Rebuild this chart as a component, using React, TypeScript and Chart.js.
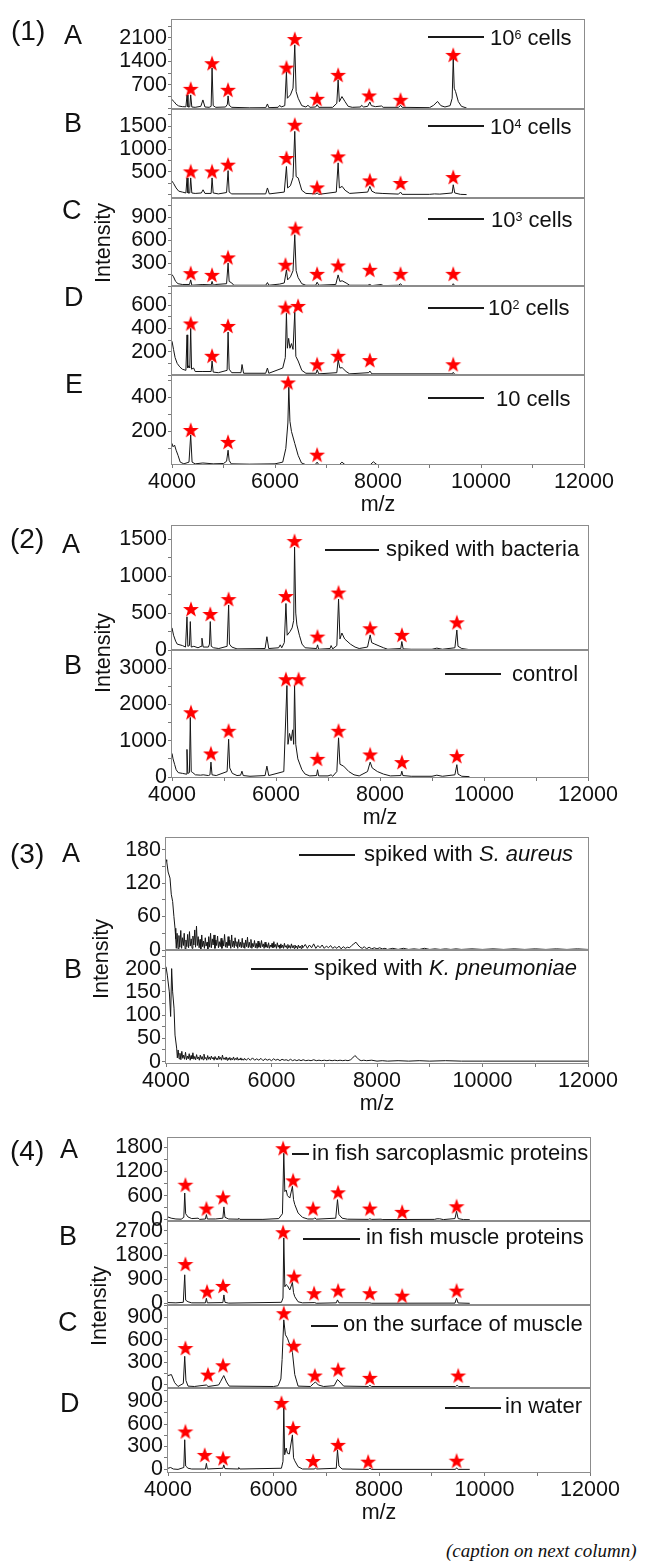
import React, { useEffect, useRef } from "react";
import { Chart, registerables } from "chart.js";
Chart.register(...registerables);

type Pt = [number, number];

// ---------------- DATA ----------------
const X_TICKS = [4000, 5000, 6000, 7000, 8000, 9000, 10000, 11000, 12000];
const X_LABELS = [4000, 6000, 8000, 10000, 12000];

// (1) A  10^6 cells
const spec1A: Pt[] = [[4000,260],[4040,200],[4080,120],[4130,70],[4200,50],[4270,45],[4292,400],[4310,40],[4345,45],[4363,400],[4385,40],[4450,30],[4560,60],[4600,250],[4640,40],[4720,30],[4760,60],[4778,1200],[4800,80],[4850,30],[5040,40],[5075,120],[5089,370],[5110,90],[5160,30],[5500,15],[5820,20],[5853,130],[5880,20],[6060,30],[6093,90],[6120,40],[6190,80],[6222,1090],[6240,300],[6300,400],[6350,600],[6384,1890],[6410,500],[6450,300],[6520,80],[6600,40],[6640,90],[6680,30],[6790,40],[6818,110],[6850,30],[7120,30],[7200,150],[7226,850],[7250,200],[7300,350],[7360,200],[7420,60],[7500,30],[7660,40],[7680,90],[7720,40],[7800,60],[7842,190],[7870,80],[7950,50],[8070,70],[8100,30],[8400,30],[8437,90],[8470,30],[9000,20],[9080,90],[9156,205],[9220,80],[9300,40],[9400,80],[9440,300],[9461,1490],[9480,600],[9506,500],[9560,200],[9620,60],[9720,10]];
const stars1A: Pt[] = [[4363,581],[4777,1344],[5088,552],[6223,1213],[6384,2064],[6817,285],[7226,997],[7828,383],[8438,255],[9460,1590]];
const yLab1A = [700, 1400, 2100];

// (1) B  10^4 cells
const spec1B: Pt[] = [[4000,300],[4030,250],[4080,150],[4130,80],[4200,60],[4270,40],[4292,370],[4310,40],[4345,40],[4363,370],[4385,40],[4450,30],[4570,40],[4603,110],[4640,30],[4760,30],[4778,370],[4800,40],[4900,20],[5060,50],[5089,530],[5110,60],[5160,20],[5820,20],[5853,150],[5890,20],[6180,60],[6222,620],[6245,150],[6300,200],[6350,380],[6384,1390],[6410,400],[6450,370],[6520,100],[6600,30],[6790,20],[6818,40],[6850,10],[7190,60],[7226,700],[7250,150],[7304,185],[7360,100],[7450,30],[7800,60],[7842,185],[7880,80],[7950,40],[8080,30],[8400,15],[8437,60],[8470,10],[9000,10],[9100,20],[9200,15],[9440,40],[9461,220],[9490,40],[9600,10],[9720,5]];
const stars1B: Pt[] = [[4363,513],[4777,513],[5088,660],[6223,807],[6384,1536],[6817,162],[7226,842],[7842,316],[8438,259],[9460,390]];
const yLab1B = [500, 1000, 1500];

// (1) C  10^3 cells
const spec1C: Pt[] = [[4000,150],[4030,120],[4070,60],[4117,30],[4200,20],[4340,20],[4363,80],[4385,10],[4600,20],[4760,15],[4778,60],[4800,10],[4850,20],[5060,30],[5089,300],[5110,60],[5160,40],[5200,10],[5820,10],[5853,45],[5880,10],[6090,25],[6180,40],[6222,210],[6245,80],[6300,120],[6350,200],[6384,670],[6410,200],[6449,110],[6520,30],[6600,10],[6790,10],[6818,50],[6850,10],[7180,20],[7226,145],[7260,60],[7304,68],[7380,40],[7450,10],[7800,10],[7842,20],[7880,5],[8068,20],[8100,5],[8400,10],[8437,30],[8470,5],[9440,5],[9461,30],[9490,5],[9720,3]];
const stars1C: Pt[] = [[4363,168],[4777,146],[5088,374],[6203,278],[6398,751],[6817,159],[7226,268],[7842,212],[8438,159],[9460,159]];
const yLab1C = [300, 600, 900];

// (1) D  10^2 cells
const spec1D: Pt[] = [[4000,290],[4030,220],[4060,150],[4100,100],[4150,70],[4200,50],[4270,40],[4292,345],[4305,60],[4330,80],[4345,60],[4363,400],[4380,50],[4420,60],[4450,30],[4600,30],[4760,30],[4778,120],[4800,25],[4900,20],[5070,40],[5089,370],[5110,50],[5160,20],[5340,20],[5360,90],[5390,15],[5820,15],[5853,60],[5880,15],[6150,60],[6200,150],[6222,530],[6240,230],[6265,315],[6290,230],[6320,270],[6350,220],[6384,540],[6405,160],[6450,120],[6520,40],[6600,15],[6800,15],[6818,45],[6850,10],[7200,20],[7226,130],[7260,60],[7304,63],[7380,30],[7450,10],[7820,20],[7842,34],[7880,10],[9440,10],[9461,23],[9490,5],[9720,3]];
const stars1D: Pt[] = [[4363,443],[4777,165],[5088,422],[6203,580],[6448,594],[6817,92],[7226,165],[7842,128],[9460,92]];
const yLab1D = [200, 400, 600];

// (1) E  10 cells
const spec1E: Pt[] = [[4000,130],[4020,110],[4050,120],[4080,90],[4117,60],[4160,20],[4230,10],[4330,20],[4363,180],[4390,20],[4450,10],[4600,15],[4800,10],[5000,12],[5060,25],[5089,90],[5110,30],[5150,10],[5500,8],[6000,10],[6150,20],[6210,100],[6250,250],[6268,460],[6290,260],[6320,200],[6384,130],[6449,60],[6514,15],[6600,5],[6780,5],[6818,20],[6850,5],[7250,5],[7300,20],[7360,5],[7850,5],[7910,22],[7980,5],[8300,5],[9720,3]];
const stars1E: Pt[] = [[4363,209],[5088,139],[6254,488],[6817,64]];
const yLab1E = [200, 400];

// (2) A  spiked with bacteria
const spec2A: Pt[] = [[4000,300],[4030,200],[4070,120],[4100,80],[4200,60],[4260,40],[4288,450],[4305,50],[4335,60],[4352,385],[4370,40],[4420,50],[4500,30],[4560,50],[4576,160],[4600,40],[4700,40],[4720,80],[4736,385],[4755,50],[4800,30],[4900,20],[5060,50],[5089,610],[5105,80],[5150,40],[5250,15],[5790,20],[5825,180],[5860,20],[6050,30],[6082,70],[6110,30],[6160,100],[6191,630],[6215,200],[6270,250],[6310,300],[6340,400],[6357,1395],[6380,500],[6402,340],[6450,200],[6500,80],[6560,30],[6780,20],[6799,70],[6820,10],[7040,20],[7060,60],[7090,15],[7170,60],[7203,690],[7230,150],[7267,230],[7320,150],[7430,80],[7520,40],[7600,20],[7760,40],[7811,205],[7840,100],[7900,80],[8000,50],[8068,30],[8150,10],[8400,20],[8420,115],[8445,15],[8600,10],[9000,10],[9093,25],[9200,10],[9440,30],[9478,270],[9500,50],[9573,20],[9720,5]];
const stars2A: Pt[] = [[4365,555],[4736,488],[5088,690],[6191,731],[6356,1476],[6798,182],[7202,779],[7811,294],[8421,205],[9478,375]];
const yLab2A = [0, 500, 1000, 1500];

// (2) B  control
const spec2B: Pt[] = [[4000,650],[4020,500],[4050,350],[4080,200],[4120,120],[4200,100],[4270,80],[4288,760],[4305,100],[4335,120],[4352,1640],[4370,150],[4400,120],[4450,60],[4550,50],[4600,60],[4700,40],[4730,60],[4749,410],[4770,60],[4850,40],[5060,150],[5089,1040],[5110,250],[5160,100],[5250,40],[5320,50],[5345,160],[5370,40],[5500,20],[5790,40],[5825,300],[5860,40],[6150,150],[6210,2520],[6230,900],[6260,1200],[6290,1000],[6320,1300],[6340,900],[6357,2520],[6380,900],[6420,500],[6498,200],[6560,80],[6650,30],[6780,40],[6799,200],[6820,30],[7000,30],[7060,60],[7090,20],[7170,150],[7203,1080],[7230,350],[7300,300],[7400,150],[7500,60],[7600,30],[7760,150],[7811,410],[7850,250],[7950,150],[8068,80],[8200,30],[8400,40],[8420,160],[8440,40],[8600,20],[9000,20],[9093,50],[9200,20],[9440,60],[9478,340],[9500,80],[9573,20],[9720,10]];
const stars2B: Pt[] = [[4365,1783],[4748,649],[5088,1273],[6191,2694],[6434,2694],[6798,501],[7202,1273],[7811,621],[8421,410],[9478,577]];
const yLab2B = [0, 1000, 2000, 3000];

// (3) A  spiked with S. aureus
const spec3A: Pt[] = [[4000,162],[4013,159],[4040,140],[4076,129],[4100,100],[4126,87],[4150,60],[4171,39],[4185,20],[4195,3],
[4210,30],[4228,2],[4245,26],[4262,5],[4280,35],[4296,3],[4312,22],[4330,8],[4345,30],[4362,2],[4378,18],[4395,6],[4410,28],[4428,4],[4445,33],[4460,7],[4478,20],[4494,3],[4510,25],[4528,9],[4545,36],[4560,5],[4578,43],[4594,8],[4610,24],[4628,4],[4645,19],[4660,2],[4678,27],[4694,6],[4710,16],[4728,3],[4745,22],[4760,7],[4778,14],[4794,2],[4810,24],[4828,5],[4845,30],[4860,4],[4878,20],[4894,9],[4910,27],[4928,3],[4945,18],[4960,8],[4978,25],[4994,4],[5010,15],[5028,6],[5045,21],[5060,3],[5078,17],[5094,7],[5110,28],[5128,5],[5145,14],[5160,4],[5178,24],[5194,8],[5210,18],[5228,3],[5245,27],[5260,6],[5278,16],[5294,4],[5310,22],[5328,7],[5345,15],[5360,3],[5378,19],[5394,6],[5410,14],[5428,4],[5445,21],[5460,5],[5478,13],[5494,3],[5510,18],[5528,6],[5545,23],[5560,4],[5578,14],[5594,5],[5610,19],[5628,3],[5645,12],[5660,6],[5678,17],[5694,4],[5710,12],[5728,3],[5745,16],[5760,5],[5778,13],[5794,4],[5810,17],[5828,6],[5845,11],[5860,3],[5878,14],[5894,5],[5910,10],[5928,4],[5945,13],[5960,3],[5978,9],[5994,5],[6010,12],[6028,4],[6045,15],[6060,5],[6078,10],[6094,3],[6110,13],[6128,5],[6145,9],[6160,3],[6178,11],[6194,4],[6210,9],[6228,3],[6245,12],[6260,5],[6278,8],[6294,3],[6310,10],[6328,4],[6345,8],[6360,3],[6378,11],[6394,4],[6410,8],[6428,3],[6445,9],[6460,4],[6478,7],[6494,2],[6510,9],[6528,4],[6545,7],[6560,3],[6578,9],[6594,4],
[6640,10],[6680,3],[6720,9],[6760,4],[6800,11],[6840,3],[6880,8],[6920,4],[6960,9],[7000,3],[7040,7],[7080,4],[7120,8],[7160,3],[7200,6],[7240,3],[7280,7],[7320,2],[7360,6],[7400,3],[7440,5],[7480,4],[7520,8],[7560,11],[7600,14],[7640,9],[7680,5],[7720,3],[7760,6],[7800,2],[7850,5],[7900,2],[7950,4],[8000,2],[8050,4],[8100,2],[8150,3],[8200,1],[8300,3],[8400,1],[8500,3],[8600,1],[8700,2],[8800,1],[8900,3],[9000,1],[9100,2],[9200,1],[9300,2],[9400,1],[9500,2],[9600,1],[9800,2],[10000,1],[10200,2],[10400,1],[10600,2],[10800,1],[11000,2],[11200,1],[11400,2],[11600,1],[11800,2],[12000,1]];
const yLab3A = [0, 60, 120, 180];

// (3) B  spiked with K. pneumoniae
const spec3B: Pt[] = [[4000,204],[4025,186],[4063,150],[4088,97],[4107,200],[4126,150],[4152,115],[4171,57],[4202,29],[4215,8],
[4230,25],[4248,6],[4265,18],[4282,4],[4300,22],[4318,7],[4335,14],[4352,5],[4370,20],[4388,4],[4405,12],[4422,6],[4440,17],[4458,3],[4475,13],[4492,6],[4510,19],[4528,5],[4545,11],[4562,4],[4580,15],[4598,6],[4615,10],[4632,3],[4650,14],[4668,5],[4685,11],[4702,4],[4720,16],[4738,6],[4755,9],[4772,3],[4790,13],[4808,5],[4825,10],[4842,4],[4860,12],[4878,6],[4895,9],[4912,3],[4930,11],[4948,5],[4965,8],[4982,4],[5000,12],[5018,5],[5035,9],[5052,3],[5070,14],[5088,5],[5105,8],[5122,4],[5140,10],[5158,3],[5175,8],[5192,4],[5210,9],[5228,3],[5245,7],[5262,4],[5280,10],[5298,3],[5315,7],[5332,4],[5350,9],[5368,3],[5385,6],[5402,4],[5420,8],[5438,3],[5455,6],[5472,3],[5490,7],
[5520,3],[5560,7],[5600,3],[5640,8],[5680,3],[5720,6],[5760,3],[5800,7],[5840,2],[5880,6],[5920,3],[5960,5],[6000,2],[6040,6],[6080,3],[6120,5],[6160,2],[6200,5],[6240,3],[6280,4],[6320,2],[6360,5],[6400,2],[6440,4],[6480,2],[6520,4],[6560,2],[6600,4],[6650,2],[6700,3],[6750,2],[6800,4],[6850,2],[6900,3],[6950,2],[7000,3],[7050,2],[7100,3],[7150,2],[7200,3],[7250,2],[7300,3],[7350,2],[7400,3],[7450,2],[7500,4],[7540,8],[7580,13],[7620,9],[7660,4],[7700,2],[7750,3],[7800,2],[7900,3],[8000,1],[8100,2],[8200,1],[8400,2],[8600,1],[8800,2],[9000,1],[9300,2],[9600,1],[10000,1],[11000,1],[12000,1]];
const yLab3B = [0, 50, 100, 150, 200];

// (4) A  in fish sarcoplasmic proteins
const spec4A: Pt[] = [[4000,70],[4060,40],[4150,20],[4250,15],[4300,60],[4317,665],[4335,150],[4380,70],[4450,30],[4570,40],[4600,10],[4710,20],[4728,130],[4745,20],[4900,20],[5040,40],[5060,320],[5080,60],[5150,20],[5330,15],[5341,40],[5360,10],[5800,10],[6100,30],[6170,150],[6195,1650],[6215,700],[6240,740],[6264,600],[6309,540],[6359,830],[6380,500],[6403,380],[6466,170],[6550,60],[6650,20],[6760,20],[6783,50],[6810,15],[7180,40],[7213,500],[7240,130],[7300,40],[7400,15],[7800,10],[7826,25],[7860,10],[8040,15],[8060,5],[9050,10],[9100,25],[9150,25],[9220,5],[9440,30],[9470,210],[9500,30],[9600,5],[9720,3]];
const stars4A: Pt[] = [[4330,871],[4728,279],[5043,557],[6182,1776],[6371,977],[6751,279],[7225,681],[7827,279],[8439,197],[9471,335]];
const yLab4A = [0, 600, 1200, 1800];

// (4) B  in fish muscle proteins
const spec4B: Pt[] = [[4000,30],[4150,20],[4290,40],[4317,1065],[4335,120],[4380,60],[4450,20],[4710,20],[4728,190],[4745,20],[5040,30],[5060,315],[5080,40],[5150,10],[6150,40],[6180,200],[6195,2440],[6215,620],[6240,700],[6264,660],[6309,500],[6359,780],[6380,400],[6403,250],[6466,60],[6550,20],[6783,30],[6810,5],[7190,20],[7213,130],[7240,20],[7826,20],[7860,5],[9440,10],[9470,190],[9500,15],[9720,3]];
const stars4B: Pt[] = [[4330,1466],[4740,439],[5043,652],[6182,2651],[6390,1001],[6770,379],[7225,476],[7827,379],[8439,289],[9471,476]];
const yLab4B = [0, 900, 1800, 2700];

// (4) C  on the surface of muscle
const spec4C: Pt[] = [[4000,125],[4064,138],[4127,30],[4190,-20],[4290,20],[4317,380],[4340,60],[4380,-15],[4500,-20],[4728,0],[4760,-20],[4960,0],[5000,50],[5057,125],[5110,40],[5160,-15],[6000,-20],[6087,-10],[6140,80],[6163,336],[6195,863],[6226,665],[6264,620],[6309,533],[6359,432],[6403,138],[6466,-15],[6700,-20],[6760,20],[6795,40],[6850,0],[6950,-20],[7150,-10],[7213,72],[7260,40],[7330,-15],[7800,-20],[7826,-5],[7860,-20],[9450,-20],[9480,-5],[9510,-20],[9720,-20]];
const stars4C: Pt[] = [[4330,490],[4758,138],[5043,261],[6195,951],[6385,520],[6784,125],[7225,204],[7827,95],[9502,125]];
const yLab4C = [0, 300, 600, 900];

// (4) D  in water
const spec4D: Pt[] = [[4000,10],[4050,20],[4100,0],[4190,-5],[4300,20],[4317,390],[4335,40],[4380,10],[4450,0],[4710,0],[4728,75],[4745,0],[5040,10],[5057,55],[5080,5],[5330,0],[5341,20],[5360,0],[6150,10],[6180,100],[6195,815],[6212,190],[6240,280],[6264,210],[6300,200],[6359,455],[6380,150],[6403,110],[6466,30],[6550,0],[6780,0],[6795,15],[6820,0],[7190,10],[7213,255],[7240,40],[7300,0],[7800,-5],[7826,10],[7860,-5],[9450,-5],[9470,15],[9500,-5],[9720,-5]];
const stars4D: Pt[] = [[4330,500],[4696,188],[5043,143],[6151,881],[6371,546],[6751,107],[7225,322],[7794,98],[9471,111]];
const yLab4D = [0, 300, 600, 900];

// ---------------- LAYOUT ----------------
const W = 651;
const YW = 60;
const PT = 16;
const PB = 16;
const XH = 54;
const SANS = '"Liberation Sans", Arial, Helvetica, sans-serif';

interface Spec {
  left: number; right: number; top: number; bottom: number;
  yMin: number; yMax: number; yLabels: number[];
  line: Pt[]; stars: Pt[]; xAxis: boolean;
}

const PANELS: Spec[] = [
  { left: 172, right: 584, top: 20, bottom: 109, yMin: -20, yMax: 2630, yLabels: yLab1A, line: spec1A, stars: stars1A, xAxis: false },
  { left: 172, right: 584, top: 109, bottom: 198, yMin: -70, yMax: 1880, yLabels: yLab1B, line: spec1B, stars: stars1B, xAxis: false },
  { left: 172, right: 584, top: 198, bottom: 286, yMin: 0, yMax: 1150, yLabels: yLab1C, line: spec1C, stars: stars1C, xAxis: false },
  { left: 172, right: 584, top: 286, bottom: 375, yMin: 0, yMax: 765, yLabels: yLab1D, line: spec1D, stars: stars1D, xAxis: false },
  { left: 172, right: 584, top: 375, bottom: 464, yMin: 9, yMax: 532, yLabels: yLab1E, line: spec1E, stars: stars1E, xAxis: true },
  { left: 172, right: 588, top: 526, bottom: 650, yMin: 0, yMax: 1680, yLabels: yLab2A, line: spec2A, stars: stars2A, xAxis: false },
  { left: 172, right: 588, top: 650, bottom: 777, yMin: 0, yMax: 3500, yLabels: yLab2B, line: spec2B, stars: stars2B, xAxis: true },
  { left: 166, right: 588, top: 838, bottom: 950, yMin: 0, yMax: 201, yLabels: yLab3A, line: spec3A, stars: [], xAxis: false },
  { left: 166, right: 588, top: 950, bottom: 1063, yMin: -3, yMax: 240, yLabels: yLab3B, line: spec3B, stars: [], xAxis: true },
  { left: 168, right: 590, top: 1138, bottom: 1221, yMin: -30, yMax: 2030, yLabels: yLab4A, line: spec4A, stars: stars4A, xAxis: false },
  { left: 168, right: 590, top: 1221, bottom: 1305, yMin: -60, yMax: 3070, yLabels: yLab4B, line: spec4B, stars: stars4B, xAxis: false },
  { left: 168, right: 590, top: 1305, bottom: 1388, yMin: -40, yMax: 1060, yLabels: yLab4C, line: spec4C, stars: stars4C, xAxis: false },
  { left: 168, right: 590, top: 1388, bottom: 1472, yMin: -40, yMax: 1080, yLabels: yLab4D, line: spec4D, stars: stars4D, xAxis: true },
];

function makeStar(): HTMLCanvasElement {
  const c = document.createElement("canvas");
  c.width = 18;
  c.height = 18;
  const ctx = c.getContext("2d")!;
  ctx.fillStyle = "#ff0000";
  ctx.beginPath();
  for (let i = 0; i < 10; i++) {
    const r = i % 2 === 0 ? 8.4 : 3.4;
    const a = -Math.PI / 2 + (i * Math.PI) / 5;
    const px = 9 + r * Math.cos(a);
    const py = 9.7 + r * Math.sin(a);
    if (i === 0) ctx.moveTo(px, py);
    else ctx.lineTo(px, py);
  }
  ctx.closePath();
  ctx.fill();
  return c;
}

const framePlugin = {
  id: "frame",
  afterDraw(chart: any) {
    const { ctx, chartArea } = chart;
    const { left, top, right, bottom } = chartArea;
    ctx.save();
    ctx.strokeStyle = "#8c8c8c";
    ctx.lineWidth = 1;
    ctx.strokeRect(Math.round(left) - 0.5, Math.round(top) - 0.5, Math.round(right - left) + 1, Math.round(bottom - top) + 1);
    ctx.restore();
  },
};

function PanelChart({ spec }: { spec: Spec }) {
  const ref = useRef<HTMLCanvasElement>(null);
  const ph = spec.bottom - spec.top;
  const h = PT + ph + (spec.xAxis ? XH + 4 : PB);
  useEffect(() => {
    const star = makeStar();
    const labs = spec.yLabels;
    const half = (labs[1] - labs[0]) / 2;
    const yt: number[] = [];
    for (let k = Math.ceil(spec.yMin / half); k * half <= spec.yMax; k++) yt.push(k * half);
    const tickFont = { family: SANS, size: 21.5 };
    const chart = new Chart(ref.current!, {
      type: "line",
      data: {
        datasets: [
          {
            data: spec.stars.map(([x, y]) => ({ x, y })),
            showLine: false,
            pointStyle: star as any,
            pointRadius: 9,
            borderWidth: 0,
            clip: false as any,
          },
          {
            data: spec.line.map(([x, y]) => ({ x, y })),
            borderColor: "#151515",
            borderWidth: 1,
            pointRadius: 0,
            tension: 0,
            fill: false,
          },
        ],
      },
      options: {
        responsive: false,
        maintainAspectRatio: false,
        animation: false,
        events: [],
        layout: {
          padding: {
            left: spec.left - YW,
            right: W - spec.right,
            top: PT,
            bottom: spec.xAxis ? 4 : PB,
          },
        },
        plugins: { legend: { display: false }, tooltip: { enabled: false } },
        scales: {
          x: {
            type: "linear",
            min: 4000,
            max: 12000,
            display: spec.xAxis,
            afterFit: (s: any) => { if (spec.xAxis) s.height = XH; },
            afterBuildTicks: (s: any) => { s.ticks = X_TICKS.map((v) => ({ value: v })); },
            ticks: {
              autoSkip: false,
              maxRotation: 0,
              padding: 1,
              color: "#111",
              font: tickFont,
              callback: (v: any) => (X_LABELS.includes(Number(v)) ? String(v) : ""),
            },
            grid: { drawOnChartArea: false, drawTicks: true, tickLength: 4, color: "#777" },
            border: { display: false },
            title: { display: true, text: "m/z", color: "#111", font: { family: SANS, size: 21.5 }, padding: { top: 0, bottom: 0 } },
          },
          y: {
            type: "linear",
            min: spec.yMin,
            max: spec.yMax,
            afterFit: (s: any) => { s.width = YW; },
            afterBuildTicks: (s: any) => { s.ticks = yt.map((v) => ({ value: v })); },
            ticks: {
              autoSkip: false,
              padding: 1,
              color: "#111",
              font: tickFont,
              callback: (v: any) => (labs.includes(Number(v)) ? String(v) : ""),
            },
            grid: { drawOnChartArea: false, drawTicks: true, tickLength: 4, color: "#777" },
            border: { display: false },
          },
        },
      } as any,
      plugins: [framePlugin],
    });
    return () => chart.destroy();
  }, []);
  return (
    <canvas
      ref={ref}
      width={W}
      height={h}
      style={{ position: "absolute", left: 0, top: spec.top - PT, width: W, height: h }}
    />
  );
}

// text overlays
const GROUP_LABELS: { t: string; x: number; c: number }[] = [
  { t: "(1)", x: 11, c: 30.7 },
  { t: "(2)", x: 10, c: 538.5 },
  { t: "(3)", x: 10, c: 853 },
  { t: "(4)", x: 10, c: 1150 },
];
const PANEL_LETTERS: { t: string; x: number; c: number }[] = [
  { t: "A", x: 64, c: 34.5 }, { t: "B", x: 64, c: 123 }, { t: "C", x: 62, c: 210 }, { t: "D", x: 64, c: 296.5 }, { t: "E", x: 65, c: 384 },
  { t: "A", x: 62, c: 543.5 }, { t: "B", x: 64, c: 665 },
  { t: "A", x: 62, c: 852.5 }, { t: "B", x: 64, c: 969 },
  { t: "A", x: 60, c: 1148.5 }, { t: "B", x: 59, c: 1236 }, { t: "C", x: 58, c: 1321.5 }, { t: "D", x: 60, c: 1402.5 },
];
const INTENSITY_POS: { x: number; y: number }[] = [
  { x: 103, y: 243 }, { x: 103, y: 653 }, { x: 101, y: 959 }, { x: 99, y: 1306 },
];

type Part = { text: string; italic?: boolean; sup?: boolean };
const LEGENDS: { x1: number; x2: number; y: number; tx: number; base: number; parts: Part[] }[] = [
  { x1: 428, x2: 484, y: 36.7, tx: 490, base: 46.3, parts: [{ text: "10" }, { text: "6", sup: true }, { text: " cells" }] },
  { x1: 428, x2: 484, y: 126, tx: 490, base: 135, parts: [{ text: "10" }, { text: "4", sup: true }, { text: " cells" }] },
  { x1: 428, x2: 484, y: 219.3, tx: 491, base: 228.3, parts: [{ text: "10" }, { text: "3", sup: true }, { text: " cells" }] },
  { x1: 428, x2: 484, y: 308.3, tx: 488, base: 315.5, parts: [{ text: "10" }, { text: "2", sup: true }, { text: " cells" }] },
  { x1: 428, x2: 484, y: 398.3, tx: 496, base: 406.5, parts: [{ text: "10 cells" }] },
  { x1: 325, x2: 379, y: 549.5, tx: 386, base: 556.7, parts: [{ text: "spiked with bacteria" }] },
  { x1: 445, x2: 501, y: 674.3, tx: 512, base: 681.7, parts: [{ text: "control" }] },
  { x1: 299, x2: 355, y: 854.5, tx: 364, base: 861.7, parts: [{ text: "spiked with " }, { text: "S. aureus", italic: true }] },
  { x1: 251, x2: 308, y: 968.5, tx: 314, base: 975.5, parts: [{ text: "spiked with " }, { text: "K. pneumoniae", italic: true }] },
  { x1: 292, x2: 309, y: 1153.5, tx: 312, base: 1160.5, parts: [{ text: "in fish sarcoplasmic proteins" }] },
  { x1: 303, x2: 360, y: 1238.5, tx: 366, base: 1245.3, parts: [{ text: "in fish muscle proteins" }] },
  { x1: 311, x2: 338, y: 1325.5, tx: 343, base: 1332, parts: [{ text: "on the surface of muscle" }] },
  { x1: 445, x2: 501, y: 1407.5, tx: 505, base: 1413.8, parts: [{ text: "in water" }] },
];
const CAPTION = "(caption on next column)";

const LEG_SIZE = 22;

export default function App() {
  useEffect(() => {
    document.body.style.margin = "0";
  }, []);
  return (
    <div style={{ position: "absolute", left: 0, top: 0, width: W, height: 1567, background: "#fff", overflow: "hidden", fontFamily: SANS, color: "#111" }}>
      {PANELS.map((p, i) => (
        <PanelChart key={i} spec={p} />
      ))}
      {GROUP_LABELS.map((g, i) => (
        <div key={"g" + i} style={{ position: "absolute", left: g.x, top: g.c - 0.5885 * 28, fontSize: 28, lineHeight: "33.6px", whiteSpace: "nowrap" }}>{g.t}</div>
      ))}
      {PANEL_LETTERS.map((g, i) => (
        <div key={"l" + i} style={{ position: "absolute", left: g.x, top: g.c - 0.5885 * 27, fontSize: 27, lineHeight: "32.4px", whiteSpace: "nowrap" }}>{g.t}</div>
      ))}
      {INTENSITY_POS.map((p, i) => (
        <div key={"i" + i} style={{ position: "absolute", left: p.x - 60, top: p.y - 13, width: 120, height: 26, lineHeight: "26px", fontSize: 21.5, textAlign: "center", transform: "rotate(-90deg)", whiteSpace: "nowrap" }}>Intensity</div>
      ))}
      {LEGENDS.map((l, i) => (
        <React.Fragment key={"lg" + i}>
          <div style={{ position: "absolute", left: l.x1, top: l.y - 1, width: l.x2 - l.x1, height: 2, background: "#1a1a1a" }} />
          <div style={{ position: "absolute", left: l.tx, top: l.base - 0.9465 * LEG_SIZE, fontSize: LEG_SIZE, lineHeight: LEG_SIZE * 1.2 + "px", whiteSpace: "nowrap" }}>
            {l.parts.map((p, j) =>
              p.sup ? (
                <span key={j} style={{ fontSize: 12.5, position: "relative", top: -6 }}>{p.text}</span>
              ) : (
                <span key={j} style={{ fontStyle: p.italic ? "italic" : "normal", whiteSpace: "pre" }}>{p.text}</span>
              )
            )}
          </div>
        </React.Fragment>
      ))}
      <div style={{ position: "absolute", left: 446, top: 1558 - 0.9375 * 19, fontSize: 19, lineHeight: "22.8px", fontFamily: '"Liberation Serif", "DejaVu Serif", serif', fontStyle: "italic", whiteSpace: "nowrap" }}>{CAPTION}</div>
    </div>
  );
}
